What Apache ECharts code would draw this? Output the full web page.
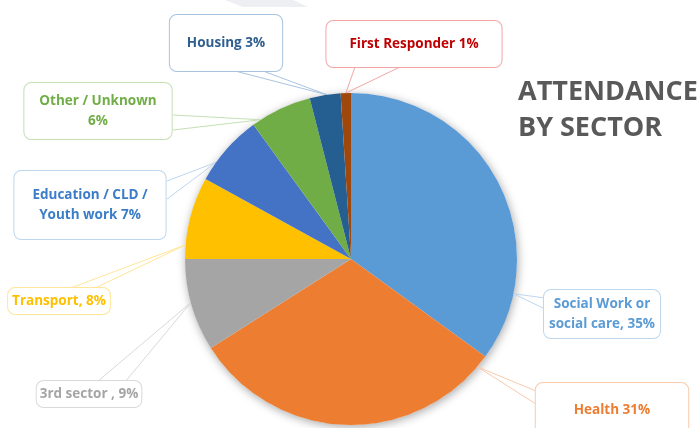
<!DOCTYPE html>
<html>
<head>
<meta charset="utf-8">
<script src="https://cdn.jsdelivr.net/npm/echarts@6/dist/echarts.min.js"></script>
<style>
html,body{margin:0;padding:0;background:#fff;}
#c{width:700px;height:428px;}
</style>
</head>
<body>
<div id="c"></div>
<script>
// ---- data ----
var categories = ['Social Work or\nsocial care', 'Health', '3rd sector', 'Transport', 'Education / CLD /\nYouth work', 'Other / Unknown', 'Housing', 'First Responder'];
var separators = [', ', ' ', ' , ', ', ', ' ', '\n', ' ', ' '];
var values = [35, 31, 9, 8, 7, 6, 3, 1];
var titleLines = ['ATTENDANCE', 'BY SECTOR'];

// ---- styles ----
var sliceColors = ['#5b9bd5', '#ed7d31', '#a5a5a5', '#ffc000', '#4472c4', '#70ad47', '#255e91', '#9e480e'];
var textColors  = ['#5b9bd5', '#ed7d31', '#a5a5a5', '#ffc000', '#3b7dc8', '#70ad47', '#2f5f8f', '#c00000'];
var boxColors   = ['#bdd7ee', '#f8cbad', '#d9d9d9', '#ffe699', '#bdd7ee', '#c5e0b4', '#a9c4df', '#f4a6a6'];
var boxPos = [[602, 314], [612, 410], [89, 394], [59, 301], [90, 205], [98, 111], [226, 43], [414, 44]];
var boxPad = [[4, 5], [17, 38], [3, 3], [3, 4], [14, 18], [8, 15], [18, 17], [13, 23]];
// callout pointer: where on the slice (fraction of its arc) and its two base points on the box
var pointerAt = [0.81, 0.04, 0.53, 0.17, 0.27, 0.14, 0.56, 0.5];
var pointerBase = [
  [[545, 298], [545, 309]],
  [[536, 391], [536, 404]],
  [[97, 382], [125, 382]],
  [[68, 289], [93, 289]],
  [[167, 181], [167, 199]],
  [[173, 115], [173, 130]],
  [[235, 71], [263, 71]],
  [[355, 67], [400, 67]]
];

var total = values.reduce(function (a, b) { return a + b; }, 0);

var data = values.map(function (v, i) {
  return {
    name: categories[i],
    value: v,
    itemStyle: { color: sliceColors[i] },
    label: {
      color: textColors[i],
      borderColor: boxColors[i],
      padding: boxPad[i]
    },
    labelLine: { lineStyle: { color: boxColors[i] } }
  };
});

var chart = echarts.init(document.getElementById('c'), null, { renderer: 'canvas' });
chart.setOption({
  animation: false,
  backgroundColor: '#ffffff',
  graphic: [
    { type: 'polygon', silent: true, z: 0,
      shape: { points: [[225, 0], [293, 0], [308, 7], [243, 7]] },
      style: { fill: '#eeeff2' } },
    { type: 'text', left: 518, top: 74, z: 10,
      style: { text: titleLines.join('\n'), fill: '#595959', font: 'bold 27px "Open Sans"', lineHeight: 36 } }
  ],
  series: [
    {
      type: 'pie', silent: true, z: 1,
      center: [351, 259], radius: 166,
      label: { show: false }, labelLine: { show: false },
      itemStyle: { color: '#ffffff', shadowBlur: 10, shadowColor: 'rgba(0,0,0,0.35)', shadowOffsetX: 1, shadowOffsetY: 2 },
      data: [{ value: total, name: 'shadow' }]
    },
    {
      type: 'pie', z: 2,
      center: [351, 259], radius: 166,
      startAngle: 90, clockwise: true,
      avoidLabelOverlap: false,
      itemStyle: { borderWidth: 0 },
      label: {
        show: true,
        formatter: function (p) { return p.name + separators[p.dataIndex] + p.value + '%'; },
        fontFamily: 'Open Sans', fontWeight: 'bold', fontSize: 13.5,
        lineHeight: 20, align: 'center',
        backgroundColor: '#ffffff', borderWidth: 1, borderRadius: 7
      },
      labelLine: { show: true, length: 10, length2: 10, lineStyle: { width: 1 } },
      labelLayout: function (params) {
        var i = params.dataIndex;
        var p = boxPos[i];
        var out = { x: p[0], y: p[1], align: 'center', verticalAlign: 'middle' };
        try {
          var lay = chart.getModel().getSeriesByIndex(1).getData().getItemLayout(i);
          var a = lay.startAngle + pointerAt[i] * (lay.endAngle - lay.startAngle);
          var s = [lay.cx + lay.r * Math.cos(a), lay.cy + lay.r * Math.sin(a)];
          out.labelLinePoints = [pointerBase[i][0], s, pointerBase[i][1]];
        } catch (e) {}
        return out;
      },
      data: data
    }
  ]
});
</script>
</body>
</html>
